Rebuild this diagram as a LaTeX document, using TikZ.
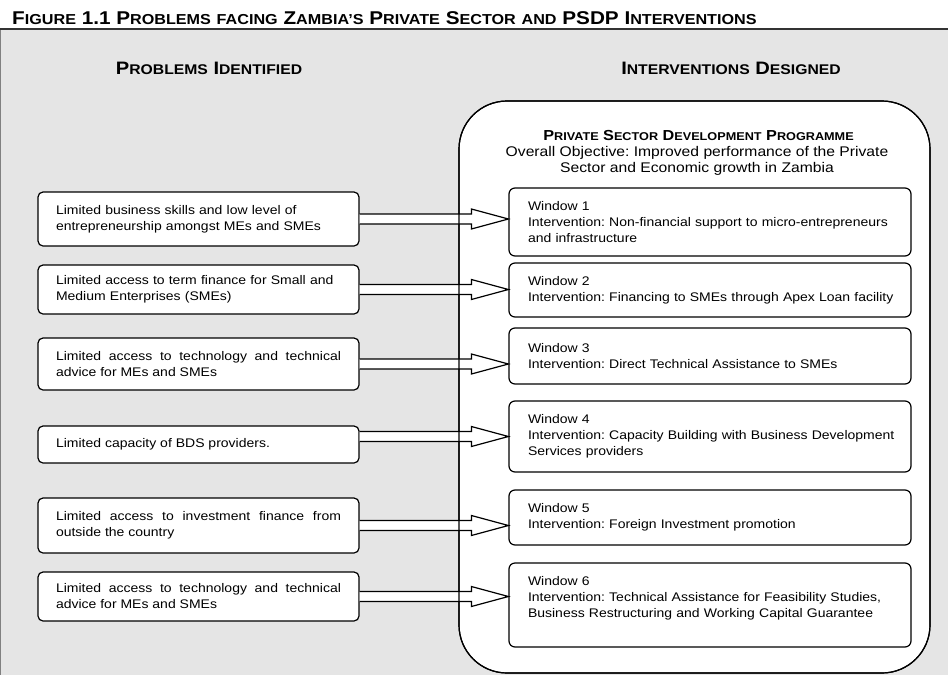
\documentclass[tikz,border=0pt]{standalone}
\usepackage{fontspec}
\setmainfont{Liberation Sans}[FakeStretch=1.12]
\usepackage{graphicx}
\usetikzlibrary{calc}
\definecolor{panel}{gray}{0.9}
\newcommand{\bodyfont}{\fontsize{12.5}{16}\selectfont}
\newcommand{\smc}[1]{\scalebox{0.78}{#1}}
% hollow block arrow: from, to, node giving the level
\newcommand{\hollowarrow}[3]{%
  \draw[hollow] let \p1=(#1.east), \p2=(#2.west), \p3=(#3.center) in
    (\x1,\y3+5pt) -- (\x2-37pt,\y3+5pt) -- (\x2-37pt,\y3+10pt) -- (\x2,\y3)
    -- (\x2-37pt,\y3-10pt) -- (\x2-37pt,\y3-5pt) -- (\x1,\y3-5pt);}
\tolerance=10000 \hbadness=10000 \hyphenpenalty=10000
\frenchspacing
\tikzset{
  prob/.style={draw, fill=white, line width=1.2pt, rounded corners=5pt, text width=285pt, inner xsep=18pt, align=justify, font=\bodyfont},
  win/.style={draw, fill=white, line width=1.2pt, rounded corners=6pt, text width=364pt, inner xsep=19pt, align=left, font=\bodyfont},
  hollow/.style={fill=white, line width=1.2pt, line join=miter},
  colhead/.style={font=\bfseries\fontsize{18}{20}\selectfont},
}
\begin{document}
\begin{tikzpicture}[x=1pt,y=-1pt]
                        \useasboundingbox (0,0) rectangle (948,675);
                        % background panel and title
                        \fill[panel] (0,30) rectangle (948,675);
                        \draw[gray, line width=1pt] (0.5,30) -- (0.5,675);
                        \draw[black!80, line width=2pt] (0,29) -- (948,29);
                        \node[anchor=base west, inner sep=0, font=\bfseries\fontsize{18.5}{20}\selectfont] (title) at (12,24) {F\smc{IGURE} 1.1 P\smc{ROBLEMS} \smc{FACING} Z\smc{AMBIA’S} P\smc{RIVATE} S\smc{ECTOR} \smc{AND} PSDP I\smc{NTERVENTIONS}};
                        \node[colhead] (probhead) at (209,68) {P\smc{ROBLEMS} I\smc{DENTIFIED}};
                        \node[colhead] (inthead) at (731,68) {I\smc{NTERVENTIONS} D\smc{ESIGNED}};
                        % programme box
                        \node[draw, fill=white, line width=1.2pt, rounded corners=48pt, inner sep=0, outer sep=0, minimum width=471pt, minimum height=572pt] (psdp) at (694.5,387) {};
                        \node[font=\bfseries\fontsize{14.5}{16}\selectfont] (psdphead) at (698.5,136) {P\smc{RIVATE} S\smc{ECTOR} D\smc{EVELOPMENT} P\smc{ROGRAMME}};
                        \node[align=center, font=\fontsize{14}{16}\selectfont] (psdpobj) at (697,161) {Overall Objective: Improved performance of the Private\\Sector and Economic growth in Zambia};
                        % problems
                        \node[prob, align=left, minimum height=54pt] (p1) at (198.5,219) {Limited business skills and low level of entrepreneurship amongst MEs and SMEs};
                        \node[prob, align=left, minimum height=49pt] (p2) at (198.5,289.5) {Limited access to term finance for Small and Medium Enterprises (SMEs)};
                        \node[prob, minimum height=52pt] (p3) at (198.5,364) {Limited access to technology and technical advice for MEs and SMEs};
                        \node[prob, minimum height=37pt] (p4) at (198.5,444.5) {Limited capacity of BDS providers.};
                        \node[prob, minimum height=55pt] (p5) at (198.5,525.5) {Limited access to investment finance from outside the country};
                        \node[prob, minimum height=49pt] (p6) at (198.5,596.5) {Limited access to technology and technical advice for MEs and SMEs};
                        % windows
                        \node[win, minimum height=68pt] (w1) at (710,222) {Window 1\\\mbox{Intervention: Non-financial support to micro-entrepreneurs}\\and infrastructure};
                        \node[win, minimum height=54pt] (w2) at (710,290) {Window 2\\\mbox{Intervention: Financing to SMEs through Apex Loan facility}};
                        \node[win, minimum height=56pt] (w3) at (710,356) {Window 3\\\mbox{Intervention: Direct Technical Assistance to SMEs}};
                        \node[win, minimum height=71pt] (w4) at (710,436.5) {Window 4\\\mbox{Intervention: Capacity Building with Business Development}\\Services providers};
                        \node[win, minimum height=55pt] (w5) at (710,517.5) {Window 5\\\mbox{Intervention: Foreign Investment promotion}};
                        \node[win, minimum height=84pt] (w6) at (710,605) {Window 6\\\mbox{Intervention: Technical Assistance for Feasibility Studies,}\\\mbox{Business Restructuring and Working Capital Guarantee}\\\mbox{}};
                        % arrows
                        \hollowarrow{p1}{w1}{p1}
                        \hollowarrow{p2}{w2}{p2}
                        \hollowarrow{p3}{w3}{p3}
                        \hollowarrow{p4}{w4}{w4}
                        \hollowarrow{p5}{w5}{p5}
                        \hollowarrow{p6}{w6}{p6}
                        \draw[line width=1.2pt, rounded corners=48pt] (psdp.south west) rectangle (psdp.north east);
                    \end{tikzpicture}
\end{document}
